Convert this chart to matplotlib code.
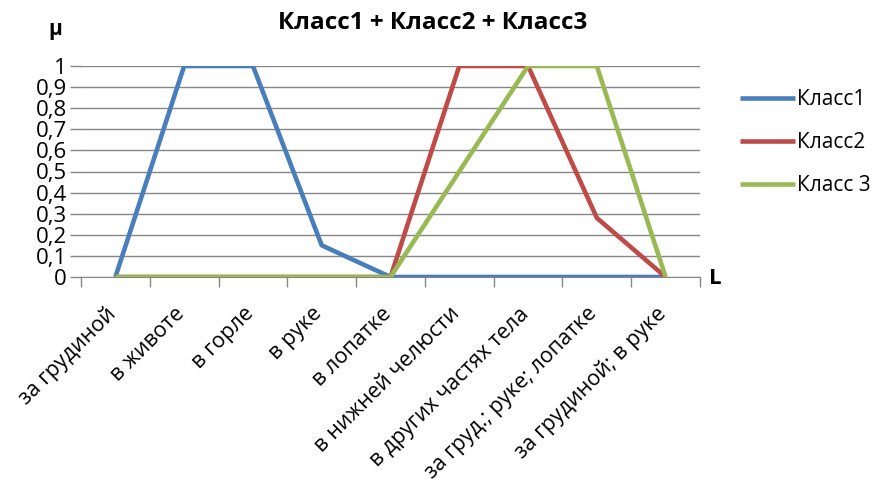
import matplotlib
matplotlib.use("Agg")
import matplotlib.pyplot as plt
import matplotlib.transforms as mtransforms
import numpy as np

categories = ["за грудиной", "в животе", "в горле", "в руке", "в лопатке",
              "в нижней челюсти", "в других частях тела",
              "за груд.; руке; лопатке", "за грудиной; в руке"]
class1 = [0, 1, 1, 0.15, 0, 0, 0, 0, 0]
class2 = [0, 0, 0, 0, 0, 1, 1, 0.28, 0]
class3 = [0, 0, 0, 0, 0, 0.5, 1, 1, 0]
series_names = ["Класс1", "Класс2", "Класс 3"]
colors = ["#4A7EBB", "#BE4B48", "#98B954"]
yticks = [0, 0.1, 0.2, 0.3, 0.4, 0.5, 0.6, 0.7, 0.8, 0.9, 1]
ytick_labels = ["0", "0,1", "0,2", "0,3", "0,4", "0,5", "0,6", "0,7", "0,8", "0,9", "1"]
title = "Класс1 + Класс2 + Класс3"

plt.rcParams['font.family'] = ['Open Sans', 'DejaVu Sans']

fig = plt.figure(figsize=(8.82, 4.97), dpi=100)
ax = fig.add_axes([81/882, 1-277/497, (700-81)/882, (277-66)/497])

x = np.arange(len(categories))
for vals, name, c in zip([class1, class2, class3], series_names, colors):
    ax.plot(x, vals, color=c, lw=3.3, label=name, solid_capstyle='butt', zorder=3)

ax.set_xlim(-0.5, len(categories) - 0.5)
ax.set_ylim(0, 1)
ax.set_yticks(yticks)
ax.set_yticklabels(ytick_labels, fontsize=16)
ax.grid(axis='y', color='#868686', lw=1)
ax.set_axisbelow(True)

ax.set_xticks(x)
ax.set_xticklabels(categories, rotation=45, ha='right', va='top',
                   rotation_mode='anchor', fontsize=15.5)
ax.set_xticks(np.arange(-0.5, len(categories) + 0.5, 1), minor=True)
ax.tick_params(axis='x', which='major', length=0, pad=19)
ax.tick_params(axis='x', which='minor', length=7, color='#868686', width=1)
ax.tick_params(axis='y', length=8, color='#868686', width=1, pad=2)
offset = mtransforms.ScaledTranslation(-10/100, 0, fig.dpi_scale_trans)
for lbl in ax.get_xticklabels():
    lbl.set_transform(lbl.get_transform() + offset)

for s in ['top', 'right', 'left']:
    ax.spines[s].set_visible(False)
ax.spines['bottom'].set_color('#868686')

fig.text(433/882, 1-23/497, title, ha='center', va='center',
         fontsize=17.5, fontweight='bold')
fig.text(55/882, 1-30/497, "μ", ha='center', va='center',
         fontsize=15, fontweight='bold')
fig.text(715/882, 1-279/497, "L", ha='center', va='center',
         fontsize=16, fontweight='bold')

leg = ax.legend(loc='upper left', bbox_to_anchor=(730/882, 1-79/497),
                bbox_transform=fig.transFigure, frameon=False,
                fontsize=15, handlelength=2.6, handletextpad=0.1,
                labelspacing=1.05, borderpad=0)

fig.savefig("out.png", dpi=100)
